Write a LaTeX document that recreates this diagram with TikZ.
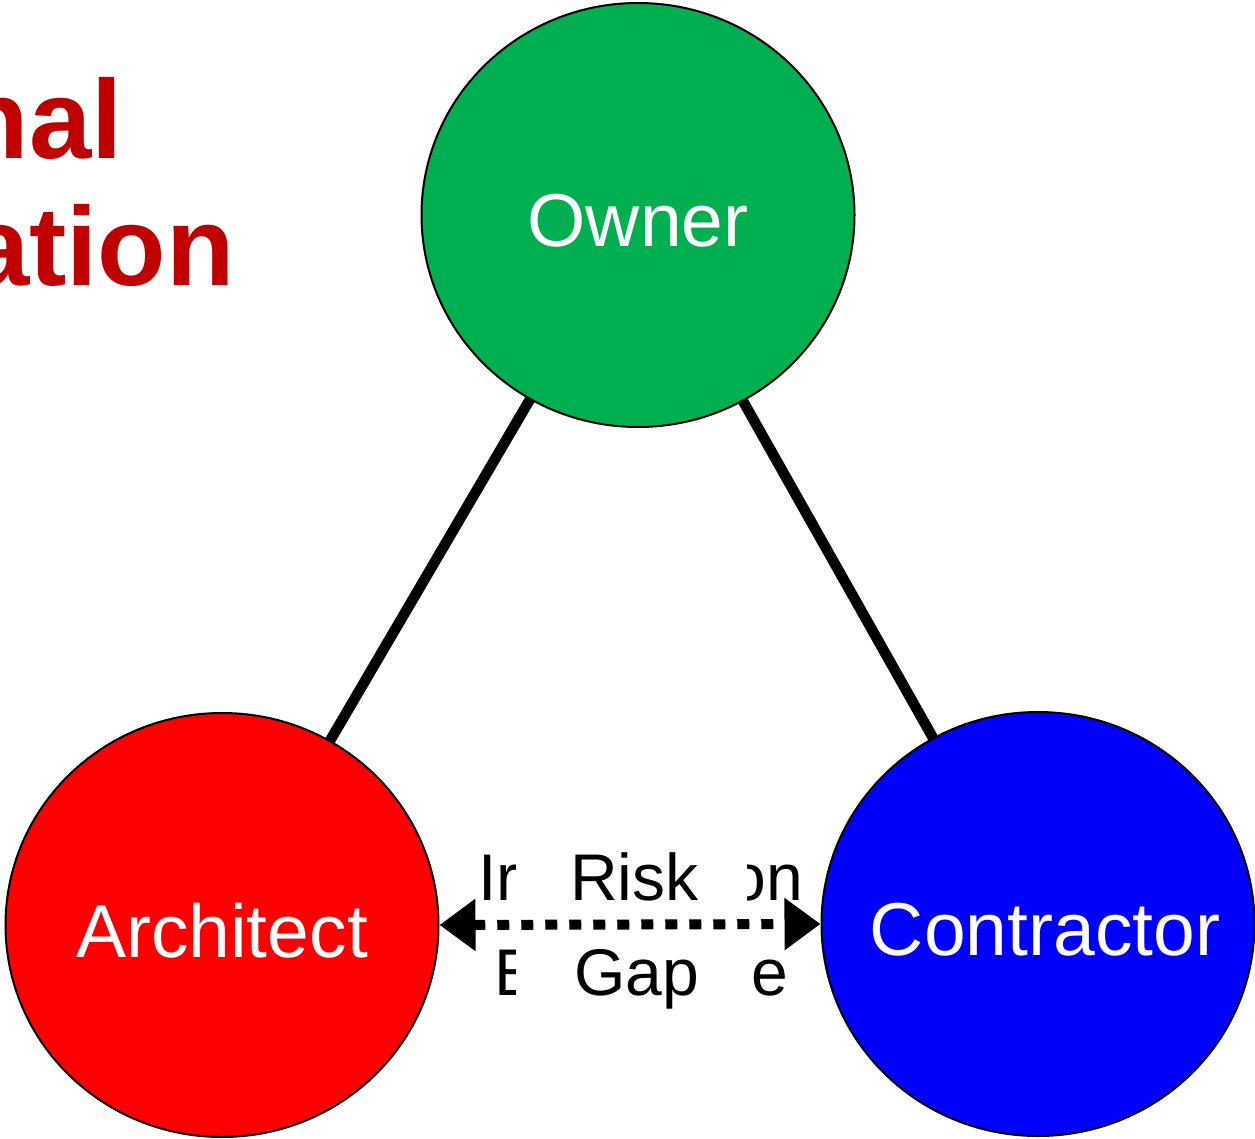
\documentclass[tikz,border=0pt]{standalone}
\usepackage{fontspec}
\setmainfont{Liberation Sans}
\usetikzlibrary{arrows.meta,shapes.geometric}
\definecolor{ownergreen}{HTML}{00B050}
\definecolor{archred}{HTML}{FF0000}
\definecolor{contblue}{HTML}{0000FF}
\definecolor{titlered}{HTML}{C00000}

\begin{document}
\begin{tikzpicture}[x=1pt,y=-1pt,
  party/.style n args={2}{ellipse,draw=black,line width=2pt,minimum width=433pt,minimum height=424pt,inner sep=0pt,
    label={[partyname,xshift=#2]center:#1}},
  partyname/.style={text=white,inner sep=0pt,yshift=-6pt,font=\fontsize{75}{90}\selectfont},
  tie/.style={line width=10.5pt,black},
  gapword/.style={anchor=base west,inner sep=0pt,font=\fontsize{66}{78}\selectfont},
  titleword/.style={anchor=base east,inner sep=0pt,text=titlered,font=\bfseries\fontsize{112}{130}\selectfont}]
\useasboundingbox (0,0) rectangle (1255,1138);
\clip (0,0) rectangle (1255,1138);
% title, cut at the left edge
\node [titleword] (title1) at (123,158) {nal};
\node [titleword] (title2) at (235,285) {ation};
% the three parties
\coordinate (o) at (638,215);
\coordinate (a) at (222,925);
\coordinate (c) at (1038,924);
\draw [tie] (o) -- (a);
\draw [tie] (o) -- (c);
\node [party={Owner}{0pt},fill=ownergreen] (owner) at (o) {};
\node [party={Architect}{0pt},fill=archred] (architect) at (a) {};
\node [party={Contractor}{7pt},fill=contblue] (contractor) at (c) {};
% the gap between architect and contractor
\draw [line width=10pt,dash pattern=on 12pt off 12pt,
  {Triangle[length=36pt,width=50pt]}-{Triangle[length=36pt,width=50pt]}]
  (architect.east) -- (contractor.west);
\begin{scope}
\clip (440,820) rectangle (515,1010);
\node [gapword] (risk1) at (478,900) {Ir};
\node [gapword] (gap1) at (494,995) {E};
\end{scope}
\node [gapword] (risk2) at (570,900) {Risk};
\node [gapword] (gap2) at (574,995) {Gap};
\begin{scope}
\clip (747,820) rectangle (815,1010);
\node [gapword,anchor=base east] (risk3) at (803,900) {on};
\end{scope}
\node [gapword] (gap3) at (751,995) {e};
\end{tikzpicture}
\end{document}
